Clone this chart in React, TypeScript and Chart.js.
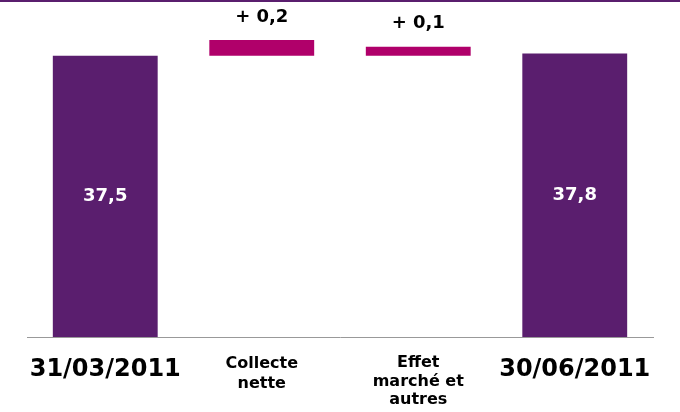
import React, { useEffect, useRef } from "react";
import { Chart, registerables } from "chart.js";

Chart.register(...registerables);

const categories: string[][] = [["31/03/2011"], ["Collecte", "nette"], ["Effet", "marché et", "autres"], ["30/06/2011"]];
// floating bars as drawn (start, end) on the chart's vertical scale
const barStart = [0, 37.5, 37.5, 0];
const barEnd = [37.5, 39.6, 38.7, 37.8];
const valueLabels = ["37,5", "+ 0,2", "+ 0,1", "37,8"];
const isTotal = [true, false, false, true];

const PURPLE = "#5a1e6e";
const MAGENTA = "#b0006a";
const FONT = "'DejaVu Sans', Verdana, sans-serif";

const labelPlugin = {
  id: "valueLabels",
  afterDatasetsDraw(chart: any) {
    const ctx = chart.ctx;
    const meta = chart.getDatasetMeta(0);
    ctx.save();
    ctx.textAlign = "center";
    ctx.textBaseline = "middle";
    ctx.font = `bold 18px ${FONT}`;
    meta.data.forEach((el: any, i: number) => {
      const props = el.getProps(["x", "y", "base"], true);
      if (isTotal[i]) {
        ctx.fillStyle = "#ffffff";
        ctx.fillText(valueLabels[i], props.x, (props.y + props.base) / 2);
      } else {
        ctx.fillStyle = "#000000";
        ctx.fillText(valueLabels[i], props.x, Math.min(props.y, props.base) - 23);
      }
    });
    ctx.restore();
  },
  beforeDraw(chart: any) {
    const ctx = chart.ctx;
    ctx.save();
    ctx.fillStyle = "#ffffff";
    ctx.fillRect(0, 0, chart.width, chart.height);
    ctx.fillStyle = PURPLE;
    ctx.fillRect(0, 0, chart.width, 2);
    ctx.restore();
  },
};

export default function App() {
  const ref = useRef<HTMLCanvasElement>(null);
  useEffect(() => {
    document.body.style.margin = "0";
    const chart = new Chart(ref.current!, {
      type: "bar",
      data: {
        labels: categories as any,
        datasets: [
          {
            data: barStart.map((s, i) => [s, barEnd[i]]) as any,
            backgroundColor: isTotal.map((t) => (t ? PURPLE : MAGENTA)),
            borderWidth: 0,
            barPercentage: 0.67,
            categoryPercentage: 1,
          },
        ],
      },
      options: {
        animation: false,
        responsive: false,
        maintainAspectRatio: false,
        layout: { padding: { top: 37, left: 27, right: 27, bottom: 0 } },
        plugins: { legend: { display: false }, tooltip: { enabled: false } },
        scales: {
          x: {
            grid: { display: false, drawTicks: false },
            border: { display: true, color: "#999999", width: 1 },
            ticks: {
              color: "#000000",
              padding: 17,
              maxRotation: 0,
              autoSkip: false,
              font: (c: any) =>
                isTotal[c.index]
                  ? { family: FONT, size: 24, weight: "bold", lineHeight: 1.35 }
                  : c.index === 1
                  ? { family: FONT, size: 16, weight: "bold", lineHeight: 1.25 }
                  : { family: FONT, size: 16, weight: "bold", lineHeight: 1.15 },
            },
            afterFit: (s: any) => {
              s.height = 75;
            },
          },
          y: { display: false, min: 0, max: 40 },
        },
      },
      plugins: [labelPlugin],
    });
    return () => chart.destroy();
  }, []);
  return (
    <div style={{ position: "absolute", left: 0, top: 0, width: 680, height: 412 }}>
      <canvas ref={ref} width={680} height={412} />
    </div>
  );
}
